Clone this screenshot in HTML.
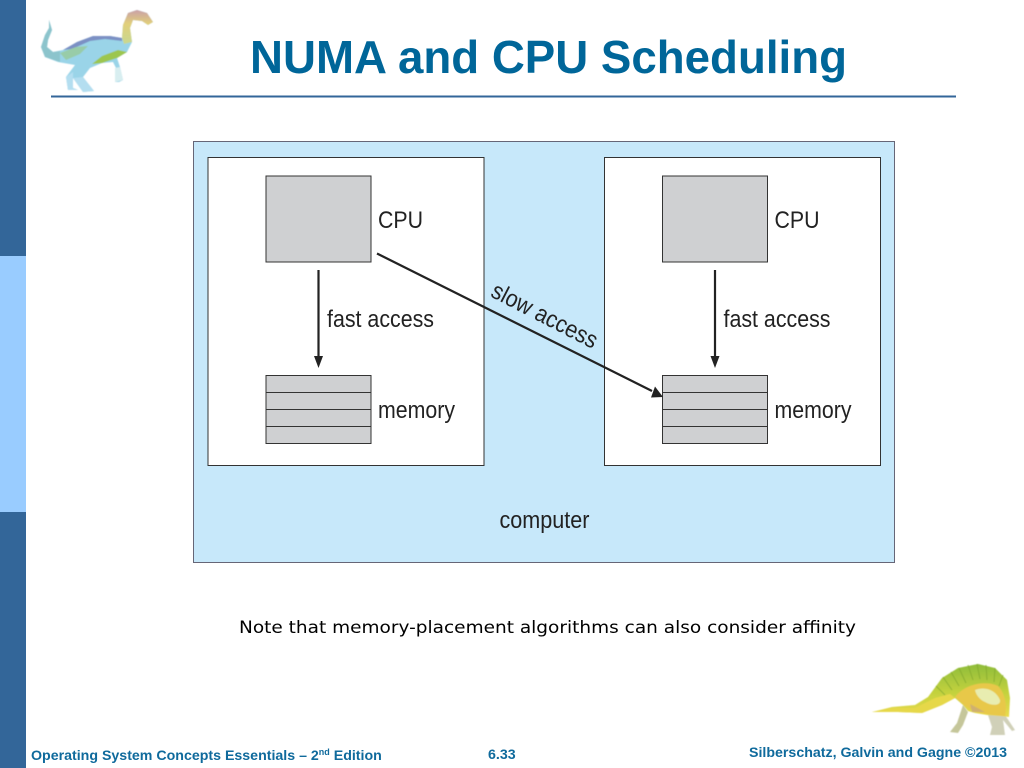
<!DOCTYPE html>
<html><head><meta charset="utf-8"><style>
html,body{margin:0;padding:0;background:#fff}
svg{display:block}
</style></head><body>
<svg width="1024" height="768" viewBox="0 0 1024 768" xmlns="http://www.w3.org/2000/svg" font-family="'Liberation Sans',sans-serif">
<defs>
<linearGradient id="head" x1="0" y1="0" x2="0" y2="1"><stop offset="0" stop-color="#c9a0a8"/><stop offset=".4" stop-color="#e2cf7a"/><stop offset="1" stop-color="#c8d890"/></linearGradient>
<linearGradient id="yg" x1="0" y1="0" x2="0" y2="1"><stop offset="0" stop-color="#8fbd3a"/><stop offset=".55" stop-color="#c4d23e"/><stop offset="1" stop-color="#eadb4c"/></linearGradient>
<filter id="soft" x="-5%" y="-5%" width="110%" height="110%"><feGaussianBlur stdDeviation="0.6"/></filter>
</defs>
<rect width="1024" height="768" fill="#fff"/>
<rect x="0" y="0" width="26" height="256" fill="#336699"/>
<rect x="0" y="256" width="26" height="256" fill="#99ccff"/>
<rect x="0" y="512" width="26" height="256" fill="#336699"/>
<rect x="51" y="95.5" width="905" height="2" fill="#336699"/>
<text x="250" y="73" font-size="46" font-weight="700" fill="#006699" textLength="597" lengthAdjust="spacingAndGlyphs">NUMA and CPU Scheduling</text>

<!-- top dinosaur -->
<g filter="url(#soft)">
<path d="M49 20 L52 30 L48 40 L47 47 L53 52 L63 50 L77 42 L93 36 L110 36 L122 38 L123 25 L128 13 L137 10 L147 13 L153 22 L148 25 L142 21 L133 20 L130 28 L132 42 L127 52 L117 58 L120 67 L123 80 L119 82 L115 82 L117 70 L113 62 L102 63 L90 68 L83 77 L94 91 L83 92 L73 78 L73 88 L78 90 L68 90 L66 77 L75 65 L58 62 L45 57 L41 47 L45 35 L49 28Z" fill="#9ad4e8"/>
<path d="M49 20 L52 30 L48 40 L47 47 L53 52 L60 51 L60 62 L45 57 L41 47 L45 35 L49 28Z" fill="#8cc4cc"/>
<path d="M63 50 L77 42 L93 36 L110 36 L122 38 L122 41 L105 39 L90 41 L72 49Z" fill="#7c90c4"/>
<path d="M60 53 L76 47 L88 46 L80 54 L66 60Z" fill="#98cca8"/>
<path d="M92 64 L102 56 L118 50 L127 52 L117 58 L102 63Z" fill="#9cc650"/>
<path d="M122 38 L123 25 L128 13 L137 10 L147 13 L153 22 L148 25 L142 21 L133 20 L130 28 L132 42 L124 44Z" fill="url(#head)"/>
<path d="M73 78 L83 77 L94 91 L83 92Z M66 77 L73 72 L73 88 L78 90 L68 90Z" fill="#b4def0"/>
<path d="M115 68 L120 67 L123 80 L115 82Z" fill="#d8eef0"/>
</g>

<!-- bottom dinosaur -->
<g filter="url(#soft)">
<path d="M963 705 L968 712 L963 725 L958 733 L950 732 L957 723Z" fill="#c5c69a"/>
<path d="M987 712 L1003 712 L1015 730 L1012 731 L1003 720 L1005 735 L990 735 L992 727Z" fill="#d0d0b8"/>
<path d="M872 712 L892 707 L915 705 L928 697 L942 678 L958 668 L978 664 L995 668 L1007 680 L1010 698 L1009 717 L1000 716 L987 715 L975 713 L968 711 L963 705 L955 698 L942 705 L922 713 L898 712Z" fill="url(#yg)"/>
<path d="M872 712 L892 708 L915 708 L935 698 L950 694 L955 698 L942 705 L922 713 L898 712Z" fill="#e6d84a"/>
<path d="M955 697 C965 684 985 680 998 686 C1006 694 1007 708 1005 716 L992 715 L975 712 L965 706Z" fill="#e8c84a"/>
<path d="M975 690 C985 686 996 690 1000 700 C1001 706 992 706 985 702 C980 700 976 695 975 690Z" fill="#e8edb0"/>
<path d="M970 704 L985 712 L972 712Z" fill="#cfb070"/>
<g stroke="#7fa52e" stroke-width="1" fill="none" opacity=".7">
<path d="M936 686 L945 695 M943 677 L952 690 M951 672 L959 686 M959 668 L966 683 M968 665 L973 680 M977 664 L980 679 M986 665 L987 680 M995 668 L994 682 M1003 675 L999 686"/>
</g>
</g>

<!-- diagram -->
<rect x="193.5" y="141.5" width="701" height="421" fill="#c7e8fa" stroke="#667" stroke-width="1"/>
<g stroke="#333" stroke-width="1">
<rect x="208" y="157.5" width="276" height="308" fill="#fff"/>
<rect x="604.5" y="157.5" width="276" height="308" fill="#fff"/>
<rect x="266" y="176" width="105" height="86" fill="#cfd0d2"/>
<rect x="662.5" y="176" width="105" height="86" fill="#cfd0d2"/>
<rect x="266" y="375.5" width="105" height="17" fill="#cfd0d2"/>
<rect x="266" y="392.5" width="105" height="17" fill="#cfd0d2"/>
<rect x="266" y="409.5" width="105" height="17" fill="#cfd0d2"/>
<rect x="266" y="426.5" width="105" height="17" fill="#cfd0d2"/>
<rect x="662.5" y="375.5" width="105" height="17" fill="#cfd0d2"/>
<rect x="662.5" y="392.5" width="105" height="17" fill="#cfd0d2"/>
<rect x="662.5" y="409.5" width="105" height="17" fill="#cfd0d2"/>
<rect x="662.5" y="426.5" width="105" height="17" fill="#cfd0d2"/>
</g>
<g stroke="#222" stroke-width="2.2" fill="none">
<line x1="318.5" y1="270" x2="318.5" y2="358"/>
<line x1="715" y1="270" x2="715" y2="358"/>
<line x1="377" y1="253.5" x2="652" y2="391"/>
</g>
<g fill="#222">
<path d="M314 356 L323 356 L318.5 368Z"/>
<path d="M710.5 356 L719.5 356 L715 368Z"/>
<path d="M663 397 L651 397.5 L655 386.5Z"/>
</g>
<g font-size="24" fill="#222">
<text x="378" y="228" textLength="45" lengthAdjust="spacingAndGlyphs">CPU</text>
<text x="774.5" y="228" textLength="45" lengthAdjust="spacingAndGlyphs">CPU</text>
<text x="327" y="327" textLength="107" lengthAdjust="spacingAndGlyphs">fast access</text>
<text x="723.5" y="327" textLength="107" lengthAdjust="spacingAndGlyphs">fast access</text>
<text x="378" y="418" textLength="77" lengthAdjust="spacingAndGlyphs">memory</text>
<text x="774.5" y="418" textLength="77" lengthAdjust="spacingAndGlyphs">memory</text>
<text x="499.5" y="528" textLength="90" lengthAdjust="spacingAndGlyphs">computer</text>
<text x="0" y="0" transform="translate(489.5,296) rotate(27.2)" textLength="116" lengthAdjust="spacingAndGlyphs">slow access</text>
</g>
<text x="239" y="633" font-family="'DejaVu Sans',sans-serif" font-size="17" fill="#000" textLength="617" lengthAdjust="spacingAndGlyphs">Note that memory-placement algorithms can also consider affinity</text>

<!-- footer -->
<g font-size="14.2" font-weight="700" fill="#0f6a9c">
<text x="31" y="760">Operating System Concepts Essentials – 2<tspan font-size="9" dy="-5">nd</tspan><tspan dy="5"> Edition</tspan></text>
<text x="488" y="759">6.33</text>
<text x="749" y="757">Silberschatz, Galvin and Gagne ©2013</text>
</g>
</svg>
</body></html>
